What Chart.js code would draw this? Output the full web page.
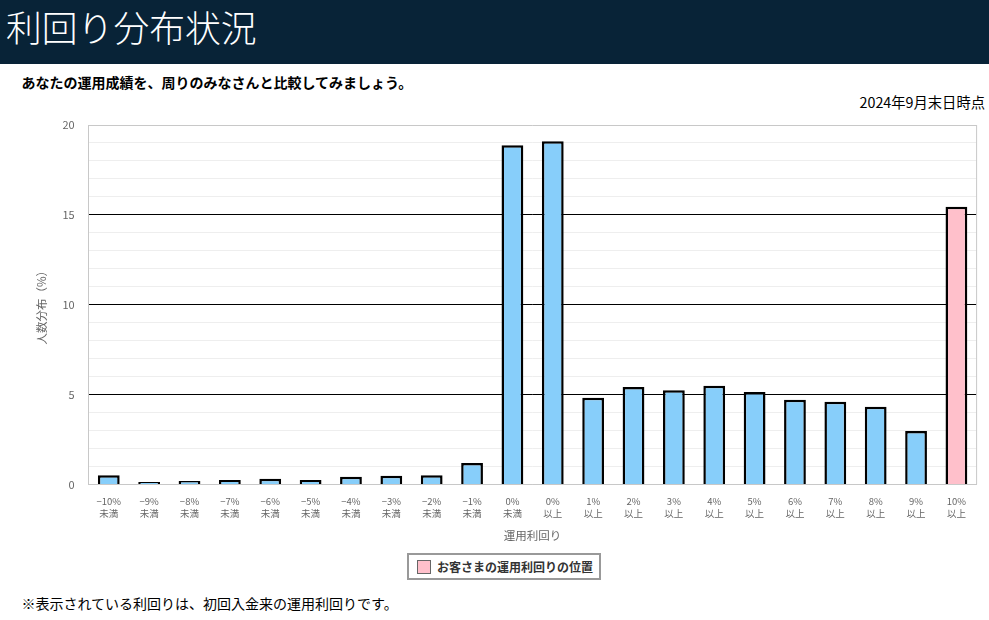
<!DOCTYPE html>
<html lang="ja">
<head>
<meta charset="utf-8">
<title>利回り分布状況</title>
<script src="https://cdn.jsdelivr.net/npm/chart.js@4"></script>
<style>
  html, body { margin: 0; padding: 0; background: #fff; }
  body { width: 989px; height: 620px; position: relative; overflow: hidden; font-family: "Noto Sans CJK JP", sans-serif; color: #000; }
  .header { position: absolute; left: 0; top: 0; width: 989px; height: 64px; background: #082337; }
  .header h1 { margin: 0; position: absolute; left: 6px; top: 1px; font-size: 35.8px; line-height: 50px; font-weight: 300; color: #fff; white-space: nowrap; }
  .lead { position: absolute; left: 21.5px; top: 71.5px; font-size: 14px; line-height: 20px; font-weight: 700; white-space: nowrap; }
  .asof { position: absolute; right: 4px; top: 92px; font-size: 14.3px; line-height: 20px; white-space: nowrap; }
  .chart-wrap { position: absolute; left: 0; top: 100px; width: 989px; height: 445px; }
  .legend { position: absolute; left: 407px; top: 553px; width: 194px; height: 27px; box-sizing: border-box; border: 2px solid #999; display: flex; align-items: center; font-size: 12px; font-weight: 700; color: #333; white-space: nowrap; }
  .legend i { display: block; width: 14px; height: 14px; margin: 0 6px 0 8px; box-sizing: border-box; background: #ffc0cb; border: 1.5px solid #666; }
  .note { position: absolute; left: 21.5px; top: 593px; font-size: 14px; line-height: 20px; white-space: nowrap; }
</style>
</head>
<body>
<div class="header"><h1>利回り分布状況</h1></div>
<div class="lead">あなたの運用成績を、周りのみなさんと比較してみましょう。</div>
<div class="asof">2024年9月末日時点</div>
<div class="chart-wrap"><canvas id="dist-chart"></canvas></div>
<div class="legend"><i></i>お客さまの運用利回りの位置</div>
<div class="note">※表示されている利回りは、初回入金来の運用利回りです。</div>
<script>
const categories = [
  ['−10%', '未満'], ['−9%', '未満'], ['−8%', '未満'], ['−7%', '未満'], ['−6%', '未満'],
  ['−5%', '未満'], ['−4%', '未満'], ['−3%', '未満'], ['−2%', '未満'], ['−1%', '未満'],
  ['0%', '未満'], ['0%', '以上'], ['1%', '以上'], ['2%', '以上'], ['3%', '以上'],
  ['4%', '以上'], ['5%', '以上'], ['6%', '以上'], ['7%', '以上'], ['8%', '以上'],
  ['9%', '以上'], ['10%', '以上'],
];
const shares = [
  0.52, 0.14, 0.2, 0.25, 0.32, 0.25, 0.43, 0.48, 0.52, 1.2,
  18.88, 19.1, 4.82, 5.43, 5.25, 5.49, 5.14, 4.71, 4.6, 4.32, 2.98, 15.45,
];
// Index of the bar that holds the customer's own yield.
const customerIndex = 21;

const FONT = '"Noto Sans CJK JP", sans-serif';
const FRAME = '#c8c8c8';

// Right edge of the plot frame; the scales only give top, left and bottom.
const frameEdge = {
  id: 'frameEdge',
  beforeDatasetsDraw(chart) {
    const { ctx, chartArea } = chart;
    ctx.save();
    ctx.strokeStyle = FRAME;
    ctx.lineWidth = 1;
    ctx.beginPath();
    ctx.moveTo(chartArea.right, chartArea.top);
    ctx.lineTo(chartArea.right, chartArea.bottom);
    ctx.stroke();
    ctx.restore();
  },
};

new Chart(document.getElementById('dist-chart'), {
  type: 'bar',
  data: {
    labels: categories,
    datasets: [{
      data: shares,
      backgroundColor: shares.map((v, i) => (i === customerIndex ? '#ffc0cb' : '#87cefa')),
      borderColor: '#000',
      borderWidth: 2.5,
      barPercentage: 0.54,
      categoryPercentage: 1,
    }],
  },
  options: {
    responsive: true,
    maintainAspectRatio: false,
    animation: false,
    layout: { padding: { top: 25, right: 12.4 } },
    plugins: { legend: { display: false }, tooltip: { enabled: false } },
    scales: {
      x: {
        afterFit(scale) { scale.height = 60.5; },
        grid: { display: false },
        border: { color: FRAME },
        ticks: { color: '#666', font: { family: FONT, size: 9.5, lineHeight: '12px' }, padding: 3, maxRotation: 0, autoSkip: false },
        title: { display: true, text: '運用利回り', color: '#666', font: { family: FONT, size: 11.5 }, padding: { top: 5, bottom: 2 } },
      },
      y: {
        min: 0,
        max: 20,
        afterFit(scale) { scale.width = 88.6; },
        grid: {
          drawTicks: false,
          lineWidth: 1,
          color(c) {
            const v = c.tick.value;
            if (v === 0 || v === 20) return FRAME;
            return v % 5 === 0 ? '#000' : '#eeeeee';
          },
        },
        border: { color: FRAME },
        ticks: {
          stepSize: 1,
          autoSkip: false,
          padding: 14,
          color: '#666',
          font: { family: FONT, size: 11 },
          callback: (v) => (v % 5 === 0 ? String(v) : ''),
        },
        title: { display: true, text: '人数分布（%）', color: '#666', font: { family: FONT, size: 11.5 }, padding: { top: 35 } },
      },
    },
  },
  plugins: [frameEdge],
});
</script>
</body>
</html>
